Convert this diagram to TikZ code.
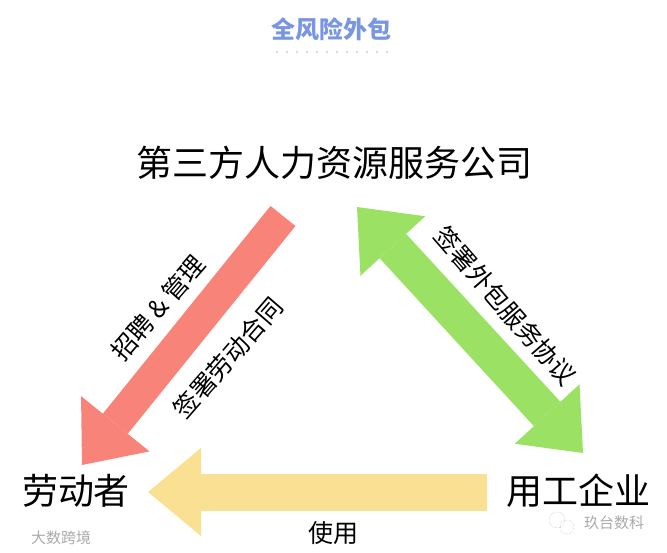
\documentclass[tikz,border=0pt]{standalone}
\usepackage{fontspec}
\setmainfont{Noto Sans CJK SC}
\usepackage{tikz}
\usetikzlibrary{arrows.meta}
\definecolor{hirered}{RGB}{248,131,121}
\definecolor{dealgreen}{RGB}{155,225,100}
\definecolor{useyellow}{RGB}{250,224,146}
\definecolor{titleblue}{RGB}{120,150,225}
\definecolor{dotgray}{RGB}{200,206,220}
\definecolor{markgray}{RGB}{170,170,170}

\begin{document}
\begin{tikzpicture}[x=1pt,y=-1pt,>={Triangle[length=53pt,width=88pt,line width=0pt]},
	party/.style={font=\fontsize{36}{36}\selectfont,inner sep=0pt},
	deal/.style={font=\fontsize{25}{25}\selectfont,inner sep=0pt},
	watermark/.style={font=\fontsize{15}{15}\selectfont,text=markgray,inner sep=0pt}]
			\useasboundingbox (0,0) rectangle (667,553);
			\node [font=\fontsize{24}{24}\selectfont\bfseries,text=titleblue] (title) at (331,29) {全风险外包};
			\foreach \i in {0,...,11} \fill [dotgray] (277+10*\i,52) circle (1.1);
			\node [party] (agency) at (334,163) {第三方人力资源服务公司};
			\node [party] (worker) at (76,491) {劳动者};
			\node [party] (firm) at (578,491) {用工企业};
			\coordinate (redtail) at (283,216);
			\coordinate (redtip) at (82,465);
			\coordinate (greentop) at (357,207);
			\coordinate (greenbottom) at (583,453);
			\coordinate (yellowtail) at (487,492);
			\coordinate (yellowtip) at (148,492);
			\draw [useyellow,line width=37pt,->] (yellowtail) -- (yellowtip);
			\draw [hirered,line width=32pt,->] (redtail) -- (redtip);
			\draw [dealgreen,line width=36pt,<->] (greentop) -- (greenbottom);
			\node [deal,rotate=49] (hire) at (158,308) {招聘 \& 管理};
			\node [deal,rotate=49] (contract) at (228,358) {签署劳动合同};
			\node [deal,rotate=-49] (outsource) at (505,306) {签署外包服务协议};
			\node [deal] (use) at (333,533) {使用};
			\node [watermark] (leftmark) at (61,538) {大数跨境};
			\node [watermark] (rightmark) at (614,523) {玖台数科};
			\draw [markgray,densely dotted] (557,520) circle (8) (567,527) circle (7);
			\end{tikzpicture}
\end{document}
